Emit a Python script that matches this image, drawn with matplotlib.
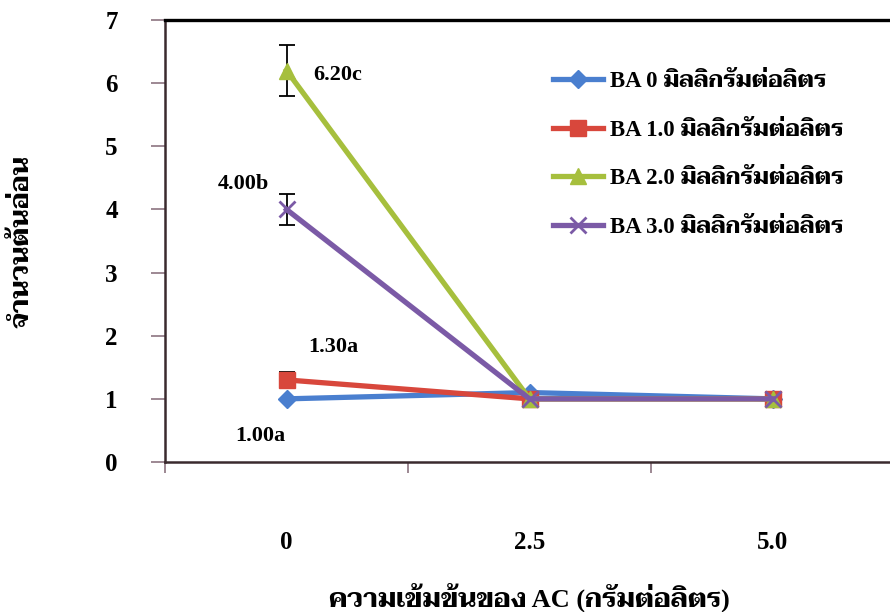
import matplotlib
matplotlib.use("Agg")
import matplotlib.pyplot as plt

# ข้อมูล
ac_labels = ["0", "2.5", "5.0"]
series_names = [
    "BA 0 มิลลิกรัมต่อลิตร",
    "BA 1.0 มิลลิกรัมต่อลิตร",
    "BA 2.0 มิลลิกรัมต่อลิตร",
    "BA 3.0 มิลลิกรัมต่อลิตร",
]
ba0 = [1.0, 1.1, 1.0]
ba1 = [1.3, 1.0, 1.0]
ba2 = [6.2, 1.0, 1.0]
ba3 = [4.0, 1.0, 1.0]
err_first = [0.0, 0.12, 0.41, 0.24]  # ความคลาดเคลื่อนที่ AC 0
point_labels = ["1.00a", "1.30a", "6.20c", "4.00b"]

colors = ["#4a7fcf", "#d8473c", "#a6bf3d", "#7b5aa6"]
markers = ["D", "s", "^", "x"]
msizes = [9, 11, 12, 11]
label_offsets = [(-19, -27), (34, 24), (37, -3), (-31, 18)]

fonts = ["Liberation Serif", "Taviraj", "Trirong", "Noto Serif Thai", "Sarabun", "Athiti"]
plt.rcParams["font.family"] = fonts
plt.rcParams["font.weight"] = "bold"

fig = plt.figure(figsize=(8.9, 6.12), dpi=100)
ax = fig.add_axes([165 / 890, 1 - 462 / 612, 729 / 890, 442 / 612])

x = list(range(len(ac_labels)))
data = [ba0, ba1, ba2, ba3]
handles = []
for i, y in enumerate(data):
    mew = 2 if markers[i] == "x" else 1
    (ln,) = ax.plot(x, y, color=colors[i], lw=3.8, marker=markers[i],
                    ms=msizes[i], mew=mew, mec=colors[i], zorder=3 + i,
                    label=series_names[i])
    handles.append(ln)
    if err_first[i] > 0:
        ax.errorbar([x[0]], [y[0]], yerr=[err_first[i]], fmt="none",
                    ecolor="black", elinewidth=1.3, capsize=6, capthick=1.3,
                    zorder=2.5 + i)
    dx, dy = label_offsets[i]
    ax.annotate(point_labels[i], (x[0], y[0]), xytext=(dx, dy),
                textcoords="offset points", ha="center", va="center",
                fontsize=16, fontweight="bold")

ax.set_xlim(-0.5, 2.5)
ax.set_ylim(0, 7)
ax.set_yticks(range(0, 8))
ax.set_xticks(x)
ax.set_xticklabels(ac_labels)
ax.set_xticks([-0.5, 0.5, 1.5, 2.5], minor=True)

ax.tick_params(axis="y", direction="out", length=10, width=1.2,
               color="#8c7480", pad=24, labelsize=18)
ax.tick_params(axis="x", which="major", length=0, pad=50, labelsize=18)
ax.tick_params(axis="x", which="minor", direction="out", length=8,
               width=1.2, color="#8c7480")

for side in ["left", "bottom"]:
    ax.spines[side].set_linewidth(1.8)
    ax.spines[side].set_color("#3a2a2e")
ax.spines["top"].set_linewidth(2.4)
ax.spines["top"].set_color("black")
ax.spines["right"].set_linewidth(2.4)

fig.text(529 / 890, 1 - 597 / 612, "ความเข้มข้นของ AC (กรัมต่อลิตร)",
         fontsize=19, fontweight="bold", ha="center", va="center")
fig.text(22 / 890, 1 - 241 / 612, "จำนวนต้นอ่อน", fontsize=19,
         fontweight="bold", rotation=90, ha="center", va="center")

leg = ax.legend(handles=handles, loc="upper left", frameon=False,
                bbox_to_anchor=(553 / 890, 1 - 71 / 612),
                bbox_transform=fig.transFigure, fontsize=16.5,
                handlelength=2.2, handletextpad=0.3, labelspacing=1.2,
                borderpad=0, borderaxespad=0)

fig.savefig("out.png", dpi=100)
